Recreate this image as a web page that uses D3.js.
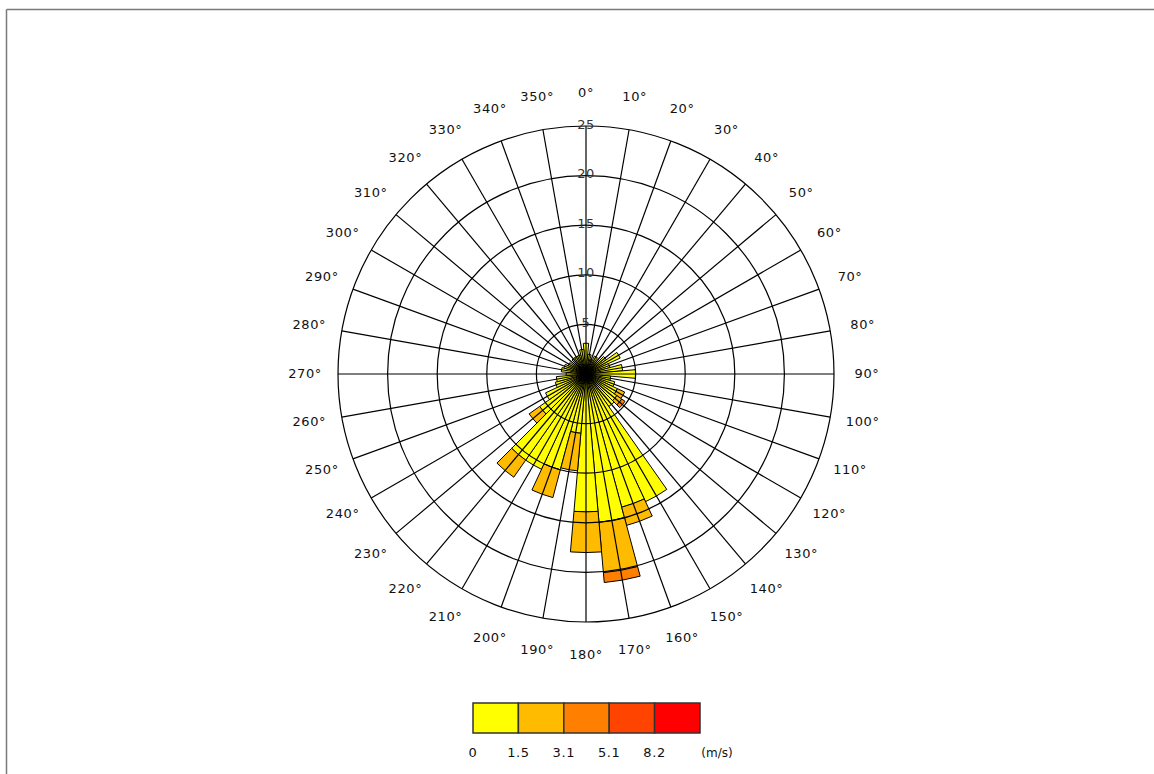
<!DOCTYPE html>
<html>
<head>
<meta charset="utf-8">
<script src="https://cdn.jsdelivr.net/npm/d3@7"></script>
<style>
  body { margin: 0; background: #fff; }
  svg text { font-family: "DejaVu Sans", Verdana, sans-serif; fill: #111; }
</style>
</head>
<body>
<div id="chart"></div>
<script>
// wind directions (deg) and frequency per speed class
var directions = [0,10,20,30,40,50,60,70,80,90,100,110,120,130,140,150,160,170,
                  180,190,200,210,220,230,240,250,260,270,280,290,300,310,320,330,340,350];
var cls1 = [3.1,2.0,1.5,2.0,1.5,2.5,3.8,2.5,3.7,5.0,2.5,3.0,3.5,3.8,4.0,14.2,13.9,15.0,
            13.9,6.0,10.0,10.6,10.6,5.7,4.5,3.2,3.0,2.0,2.5,2.3,2.0,1.5,2.0,2.0,2.0,2.5];
var cls2 = [0,0,0,0,0,0,0,0,0,0,0,0,0.8,0.6,0,0,1.9,5.1,
            4.1,3.8,2.9,0,2.1,1.3,0,0,0,0,0,0,0,0,0,0,0,0];
var cls3 = [0,0,0,0,0,0,0,0,0,0,0,0,0,0.4,0,0,0,1.0,
            0,0,0,0,0,0,0,0,0,0,0,0,0,0,0,0,0,0];
var cls4 = [0,0,0,0,0,0,0,0,0,0,0,0,0,0,0,0,0,0,
            0,0,0,0,0,0,0,0,0,0,0,0,0,0,0,0,0,0];
var cls5 = [0,0,0,0,0,0,0,0,0,0,0,0,0,0,0,0,0,0,
            0,0,0,0,0,0,0,0,0,0,0,0,0,0,0,0,0,0];
var classKeys = ["c1","c2","c3","c4","c5"];
var classColors = ["#ffff00","#ffbb00","#ff8000","#ff4400","#ff0000"];
var legendTicks = ["0","1.5","3.1","5.1","8.2"];
var ringValues = [5,10,15,20,25];
var labelAngles = [0,10,20,30,40,50,60,70,80,90,100,110,120,130,140,150,160,170,
                   180,190,200,210,220,230,240,250,260,270,280,290,300,310,320,330,340,350];

var width = 1154, height = 774;
var cx = 586, cy = 374;

var svg = d3.select("#chart").append("svg")
  .attr("width", width)
  .attr("height", height);

// frame
svg.append("line").attr("x1", 6.5).attr("y1", 9.5).attr("x2", width).attr("y2", 9.5)
  .attr("stroke", "#7a7a7a").attr("stroke-width", 1.5);
svg.append("line").attr("x1", 6.5).attr("y1", 9.5).attr("x2", 6.5).attr("y2", height)
  .attr("stroke", "#7a7a7a").attr("stroke-width", 1.5);

var r = d3.scaleLinear().domain([0, 25]).range([0, 248]);
var rad = function(a) { return a * Math.PI / 180; };

var rows = directions.map(function(d, i) {
  return {dir: d, c1: cls1[i], c2: cls2[i], c3: cls3[i], c4: cls4[i], c5: cls5[i]};
});
var series = d3.stack().keys(classKeys)(rows);

var g = svg.append("g").attr("transform", "translate(" + cx + "," + cy + ")");

var arc = d3.arc()
  .innerRadius(function(d) { return r(d[0]); })
  .outerRadius(function(d) { return r(d[1]); })
  .startAngle(function(d) { return rad(d.data.dir - 5); })
  .endAngle(function(d) { return rad(d.data.dir + 5); });

// bars
series.forEach(function(s, k) {
  g.append("g").selectAll("path")
    .data(s.filter(function(d) { return d[1] - d[0] > 0; }))
    .enter().append("path")
      .attr("d", arc)
      .attr("fill", classColors[k])
      .attr("stroke", "#000")
      .attr("stroke-width", 1);
});

// grid on top
var grid = g.append("g");
grid.selectAll("circle").data(ringValues).enter().append("circle")
  .attr("r", function(d) { return r(d); })
  .attr("fill", "none").attr("stroke", "#000").attr("stroke-width", 1.2);
grid.selectAll("line").data(labelAngles).enter().append("line")
  .attr("x1", 0).attr("y1", 0)
  .attr("x2", function(d) { return r(25) * Math.sin(rad(d)); })
  .attr("y2", function(d) { return -r(25) * Math.cos(rad(d)); })
  .attr("stroke", "#000").attr("stroke-width", 1.2);

// ring labels
g.selectAll(".ringlab").data(ringValues).enter().append("text")
  .attr("class", "ringlab")
  .attr("x", 0)
  .attr("y", function(d) { return -r(d) - 1; })
  .attr("text-anchor", "middle")
  .attr("dominant-baseline", "middle")
  .style("font-size", "13px")
  .style("letter-spacing", "0.5px")
  .style("fill", "#333")
  .text(function(d) { return d; });

// direction labels
g.selectAll(".dirlab").data(labelAngles).enter().append("text")
  .attr("class", "dirlab")
  .attr("x", function(d) { return 281 * Math.sin(rad(d)); })
  .attr("y", function(d) { return -281 * Math.cos(rad(d)); })
  .attr("text-anchor", "middle")
  .attr("dominant-baseline", "middle")
  .style("font-size", "13px")
  .style("letter-spacing", "0.6px")
  .text(function(d) { return d + "°"; });

// legend
var lx = d3.scaleLinear().domain([0, 5]).range([473, 700]);
var leg = svg.append("g");
leg.selectAll("rect").data(classColors).enter().append("rect")
  .attr("x", function(d, i) { return lx(i); })
  .attr("y", 703)
  .attr("width", function(d, i) { return lx(i + 1) - lx(i); })
  .attr("height", 30)
  .attr("fill", function(d) { return d; })
  .attr("stroke", "#333").attr("stroke-width", 1.5);
leg.selectAll("text").data(legendTicks).enter().append("text")
  .attr("x", function(d, i) { return lx(i); })
  .attr("y", 753)
  .attr("text-anchor", "middle")
  .attr("dominant-baseline", "middle")
  .style("font-size", "13px")
  .style("letter-spacing", "0.6px")
  .text(function(d) { return d; });
leg.append("text")
  .attr("x", 717).attr("y", 753)
  .attr("text-anchor", "middle")
  .attr("dominant-baseline", "middle")
  .style("font-size", "12px")
  .text("(m/s)");
</script>
</body>
</html>
